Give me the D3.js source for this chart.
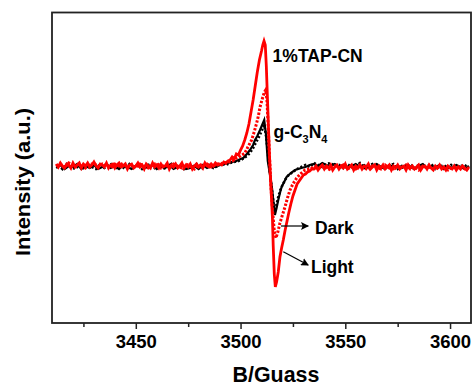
<!DOCTYPE html>
<meta charset="utf-8">
<script src="https://d3js.org/d3.v7.min.js"></script>
<style>
body { margin: 0; background: #fff; }
svg text { font-family: Arial, "Liberation Sans", sans-serif; font-weight: bold; fill: #000; }
.axis path { display: none; }
.axis line { stroke: #222; stroke-width: 1.5; }
</style>
<body>
<script>
// EPR spectra, [B (G), intensity (a.u.)]
var tapLight = [
  [3412,2],[3413,-1],[3414,3],[3415,0],[3416,-2],[3417,2],[3418,1],[3419,-2],[3420,3],[3421,-1],
  [3422,1],[3423,3],[3424,-2],[3425,2],[3426,0],[3427,3],[3428,-1],[3429,1],[3430,4],[3431,0],
  [3432,-2],[3433,2],[3434,1],[3435,-1],[3436,3],[3437,-2],[3438,1],[3439,2],[3440,-2],[3441,1],
  [3442,3],[3443,-1],[3444,0],[3445,2],[3446,-3],[3447,1],[3448,2],[3449,-2],[3450,0],[3451,3],
  [3452,-1],[3453,1],[3454,-3],[3455,2],[3456,0],[3457,-2],[3458,3],[3459,-1],[3460,1],[3461,-2],
  [3462,2],[3463,-1],[3464,0],[3465,3],[3466,-3],[3467,1],[3468,-1],[3469,2],[3470,-2],[3471,0],
  [3472,3],[3473,-2],[3474,1],[3475,-1],[3476,2],[3477,-3],[3478,0],[3479,2],[3480,-1],[3481,1],
  [3482,-2],[3483,3],[3484,0],[3485,-1],[3486,2],[3487,0],[3488,3],[3489,1],[3490,2],[3491,1],
  [3492,4],[3493,3],[3494,5],[3495,6],[3496,9],[3497,7],[3498,12],[3499,11],[3500,16],[3501,20],
  [3502,26],[3503,33],[3504,42],[3505,54],[3506,66],[3507,80],[3508,94],[3509,106],[3510,115],[3510.6,121],
  [3511.2,125],[3511.8,121],[3512.3,100],[3512.8,70],[3513.3,40],[3513.7,16],[3514.4,-17],[3515.2,-51],[3515.6,-80],[3516.1,-108],
  [3516.6,-121],[3517.2,-116],[3518,-106],[3518.8,-91],[3519.6,-82],[3520.4,-74],[3521.2,-65],[3522,-57],[3523,-47],[3524,-38],
  [3525,-30],[3526,-24],[3527,-18],[3528,-15],[3529,-12],[3530,-9],[3531,-8],[3532,-6],[3533,-5],[3534,-3],
  [3535,-3],[3536,0],[3537,-4],[3538,-1],[3539,1],[3540,-3],[3541,0],[3542,-2],[3543,1],[3544,-4],
  [3545,-1],[3546,1],[3547,-3],[3548,0],[3549,-2],[3550,2],[3551,-3],[3552,-1],[3553,1],[3554,-4],
  [3555,0],[3556,-2],[3557,1],[3558,-3],[3559,0],[3560,-1],[3561,2],[3562,-3],[3563,-1],[3564,1],
  [3565,-4],[3566,0],[3567,-2],[3568,1],[3569,-3],[3570,-1],[3571,1],[3572,-4],[3573,0],[3574,-2],
  [3575,1],[3576,-3],[3577,-1],[3578,0],[3579,-4],[3580,1],[3581,-2],[3582,0],[3583,-3],[3584,-1],
  [3585,1],[3586,-4],[3587,-1],[3588,0],[3589,-3],[3590,1],[3591,-2],[3592,-4],[3593,0],[3594,-2],
  [3595,1],[3596,-3],[3597,-1],[3598,-4],[3599,0],[3600,-2],[3601,-3],[3602,0],[3603,-4],[3604,-1],
  [3605,-3],[3606,0],[3607,-2],[3608,-4],[3609,-1]
];

var tapDark = [
  [3412,0],[3414,2],[3416,-2],[3418,3],[3420,0],[3422,-1],[3424,2],[3426,-2],[3428,1],[3430,3],
  [3432,-1],[3434,2],[3436,0],[3438,-2],[3440,2],[3442,0],[3444,3],[3446,-1],[3448,1],[3450,-2],
  [3452,2],[3454,0],[3456,-2],[3458,1],[3460,3],[3462,-2],[3464,1],[3466,-1],[3468,2],[3470,0],
  [3472,-2],[3474,2],[3476,0],[3478,-3],[3480,1],[3482,0],[3484,2],[3486,-1],[3488,1],[3490,3],
  [3492,2],[3494,4],[3496,5],[3498,8],[3500,10],[3502.1,13],[3503.5,19],[3505.3,26],[3506.5,34],[3507.7,43],
  [3508.5,50],[3509.3,59],[3510.5,68],[3511.4,74],[3512,76],[3512.6,66],[3513.2,40],[3513.8,10],[3514.5,-20],[3515.3,-45],
  [3516.1,-65],[3516.9,-72],[3517.8,-66],[3518.8,-57],[3520,-49],[3521.2,-41],[3522.4,-32],[3523.6,-24],[3525,-18],[3526.8,-12],
  [3528.5,-8],[3530.8,-4],[3533,-3],[3535,-1],[3537,-3],[3539,0],[3541,-2],[3543,-4],[3545,0],[3547,-2],
  [3549,1],[3551,-3],[3553,-1],[3555,-3],[3557,0],[3559,-2],[3561,-4],[3563,0],[3565,-1],[3567,-3],
  [3569,1],[3571,-2],[3573,-3],[3575,0],[3577,-2],[3579,1],[3581,-3],[3583,-1],[3585,-4],[3587,0],
  [3589,-2],[3591,-1],[3593,-3],[3595,0],[3597,-2],[3599,-4],[3601,-1],[3603,-2],[3605,0],[3607,-3],
  [3609,-2]
];

var cnLight = [
  [3412,-2],[3414,1],[3416,-3],[3418,0],[3420,-1],[3422,2],[3424,-3],[3426,0],[3428,-2],[3430,1],
  [3432,-3],[3434,-1],[3436,2],[3438,-2],[3440,0],[3442,-3],[3444,1],[3446,-1],[3448,-3],[3450,0],
  [3452,2],[3454,-2],[3456,-1],[3458,1],[3460,-3],[3462,0],[3464,-2],[3466,1],[3468,-3],[3470,-1],
  [3472,1],[3474,-3],[3476,-2],[3478,0],[3480,-3],[3482,1],[3484,-2],[3486,0],[3488,-1],[3490,1],
  [3492,2],[3494,3],[3496,4],[3498,5],[3500,7],[3501.3,8],[3503,12],[3504.5,16],[3506,21],[3506.9,26],
  [3508,30],[3509.3,36],[3510.3,41],[3511.3,46],[3512.1,32],[3513,5],[3514,-8],[3515,-22],[3515.8,-38],[3516.4,-49],
  [3517.2,-42],[3518,-34],[3518.8,-27],[3519.6,-21],[3520.8,-16],[3522,-11],[3524,-7],[3526,-4],[3527.5,-3],[3529,-2],
  [3531,-1],[3533,1],[3535,2],[3537,0],[3539,3],[3541,1],[3543,0],[3545,2],[3547,-1],[3549,1],
  [3551,-2],[3553,0],[3555,2],[3557,-1],[3559,1],[3561,-2],[3563,0],[3565,2],[3567,-1],[3569,-3],
  [3571,1],[3573,-1],[3575,0],[3577,-2],[3579,1],[3581,-1],[3583,-3],[3585,0],[3587,2],[3589,-2],
  [3591,0],[3593,-1],[3595,1],[3597,-3],[3599,0],[3601,-2],[3603,1],[3605,-1],[3607,-3],[3609,0]
];

var cnDark = [
  [3413,1],[3415,-3],[3417,2],[3419,-1],[3421,-3],[3423,1],[3425,-2],[3427,2],[3429,-1],[3431,-3],
  [3433,2],[3435,-2],[3437,0],[3439,3],[3441,-2],[3443,0],[3445,-3],[3447,2],[3449,-1],[3451,1],
  [3453,-3],[3455,0],[3457,2],[3459,-2],[3461,1],[3463,-3],[3465,-1],[3467,2],[3469,-2],[3471,0],
  [3473,-3],[3475,1],[3477,-1],[3479,2],[3481,-3],[3483,-1],[3485,1],[3487,-2],[3489,0],[3491,2],
  [3493,1],[3495,3],[3497,4],[3499,5],[3501,7],[3503,10],[3504.5,13],[3506,18],[3507.5,24],[3509,30],
  [3510.3,36],[3511.3,41],[3512.2,30],[3513.2,10],[3514.2,-10],[3515.2,-28],[3516.2,-44],[3517,-40],[3518,-31],[3519,-24],
  [3520,-19],[3521.5,-13],[3523,-9],[3525,-6],[3527,-3],[3529,-1],[3531,1],[3533,-1],[3535,3],[3537,1],
  [3539,-1],[3541,2],[3543,3],[3545,0],[3547,1],[3549,-2],[3551,2],[3553,-1],[3555,0],[3557,3],
  [3559,-2],[3561,0],[3563,2],[3565,-1],[3567,1],[3569,-2],[3571,0],[3573,2],[3575,-3],[3577,0],
  [3579,-1],[3581,2],[3583,-2],[3585,1],[3587,-1],[3589,0],[3591,2],[3593,-3],[3595,-1],[3597,1],
  [3599,-2],[3601,2],[3603,-1],[3605,0],[3607,1],[3609,-2]
];

var majorTicks = [3450, 3500, 3550, 3600];
var minorTicks = [3425, 3475, 3525, 3575];

var margin = {top: 12.5, left: 52, width: 419, height: 310.5};

var svg = d3.select("body").append("svg")
    .attr("width", 472)
    .attr("height", 387);

var x = d3.scaleLinear().domain([3410, 3610]).range([margin.left, margin.left + margin.width]);
var y = d3.scaleLinear().domain([-157, 153.5]).range([margin.top + margin.height, margin.top]);

svg.append("clipPath").attr("id", "plot")
  .append("rect")
    .attr("x", margin.left).attr("y", margin.top)
    .attr("width", margin.width).attr("height", margin.height);

var line = d3.line()
    .x(function(d) { return x(d[0]); })
    .y(function(d) { return y(d[1]); });

var g = svg.append("g").attr("clip-path", "url(#plot)");

g.append("path").datum(cnDark).attr("d", line)
    .attr("fill", "none").attr("stroke", "#000").attr("stroke-width", 2.6)
    .attr("stroke-dasharray", "2,2");
g.append("path").datum(cnLight).attr("d", line)
    .attr("fill", "none").attr("stroke", "#000").attr("stroke-width", 2.2);
g.append("path").datum(tapDark).attr("d", line)
    .attr("fill", "none").attr("stroke", "#ff0000").attr("stroke-width", 3)
    .attr("stroke-dasharray", "2.4,1.6");
g.append("path").datum(tapLight).attr("d", line)
    .attr("fill", "none").attr("stroke", "#ff0000").attr("stroke-width", 2.8);

// frame
svg.append("rect")
    .attr("x", margin.left).attr("y", margin.top)
    .attr("width", margin.width).attr("height", margin.height)
    .attr("fill", "none").attr("stroke", "#222").attr("stroke-width", 1.8);

var bottom = margin.top + margin.height;

svg.append("g").attr("class", "axis")
    .attr("transform", "translate(0," + bottom + ")")
    .call(d3.axisBottom(x).tickValues(majorTicks).tickSize(6).tickPadding(6).tickFormat(d3.format("d")))
    .selectAll("text")
    .style("font-size", "18.5px")
    .style("font-family", "Arial, 'Liberation Sans', sans-serif")
    .style("font-weight", "bold")
    .attr("fill", "#000");

svg.append("g").attr("class", "axis")
    .attr("transform", "translate(0," + bottom + ")")
    .call(d3.axisBottom(x).tickValues(minorTicks).tickSize(4).tickFormat(""));

// axis titles
svg.append("text")
    .attr("x", 276).attr("y", 382)
    .attr("text-anchor", "middle")
    .style("font-size", "21.4px")
    .text("B/Guass");

svg.append("text")
    .attr("transform", "translate(29.5,182) rotate(-90)")
    .attr("text-anchor", "middle")
    .attr("textLength", 148)
    .attr("lengthAdjust", "spacingAndGlyphs")
    .style("font-size", "21px")
    .text("Intensity (a.u.)");

// annotations (data coordinates)
svg.append("text")
    .attr("x", x(3515.3)).attr("y", y(104.3))
    .style("font-size", "17.5px")
    .text("1%TAP-CN");

var gc = svg.append("text")
    .attr("x", x(3515.7)).attr("y", y(28))
    .style("font-size", "17.5px");
gc.append("tspan").text("g-C");
gc.append("tspan").attr("dy", 5).style("font-size", "11px").text("3");
gc.append("tspan").attr("dy", -5).text("N");
gc.append("tspan").attr("dy", 5).style("font-size", "11px").text("4");

svg.append("text")
    .attr("x", x(3535.5)).attr("y", y(-68.3))
    .style("font-size", "17.5px")
    .text("Dark");

svg.append("text")
    .attr("x", x(3533.6)).attr("y", y(-107.3))
    .style("font-size", "17.5px")
    .text("Light");

svg.append("defs").append("marker")
    .attr("id", "arrow")
    .attr("viewBox", "0 0 10 10")
    .attr("refX", 9).attr("refY", 5)
    .attr("markerWidth", 8).attr("markerHeight", 8)
    .attr("markerUnits", "userSpaceOnUse")
    .attr("orient", "auto")
  .append("path")
    .attr("d", "M0,0L10,5L0,10L2,5Z")
    .attr("fill", "#000");

var arrows = [
  [[3519.3, -60], [3532.3, -60]],
  [[3520.4, -85.7], [3532.3, -99]]
];

svg.selectAll(".arrow").data(arrows).enter()
  .append("line")
    .attr("class", "arrow")
    .attr("x1", function(d) { return x(d[0][0]); })
    .attr("y1", function(d) { return y(d[0][1]); })
    .attr("x2", function(d) { return x(d[1][0]); })
    .attr("y2", function(d) { return y(d[1][1]); })
    .attr("stroke", "#000").attr("stroke-width", 1.2)
    .attr("marker-end", "url(#arrow)");
</script>
</body>
